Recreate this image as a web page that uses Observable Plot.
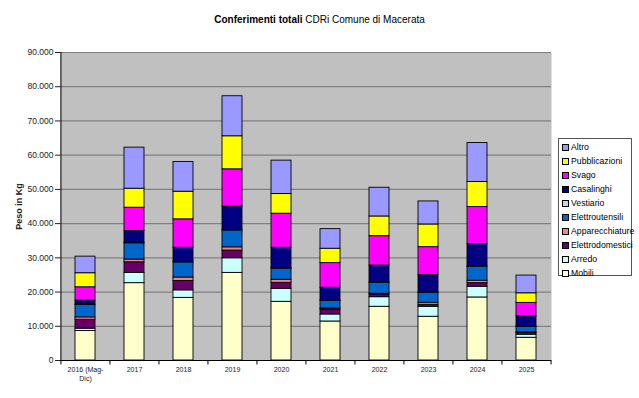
<!DOCTYPE html>
<html><head><meta charset="utf-8">
<script src="https://cdn.jsdelivr.net/npm/d3@7"></script>
<script src="https://cdn.jsdelivr.net/npm/@observablehq/plot@0.6"></script>
<style>
body{margin:0;background:#fff;font-family:"Liberation Sans",Arial,sans-serif;}
#wrap{position:relative;width:639px;height:398px;overflow:hidden;}
#title{height:40px;line-height:40px;text-align:center;font-size:10px;color:#000;white-space:nowrap;}
#legend{position:absolute;left:558px;top:138px;width:74px;height:138px;border:1px solid #555;background:#fff;box-sizing:border-box;padding-top:1px;}
.li{height:14px;display:flex;align-items:center;font-size:8.7px;color:#000;white-space:nowrap;padding-left:3px;}
.sw{display:inline-block;width:5px;height:5px;border:1px solid #000;margin-right:2px;flex:none;}
g[aria-label="y-axis label"] text{font-weight:bold;font-size:9px;}
</style></head><body>
<div id="wrap">
<div id="title"><b>Conferimenti totali</b> CDRi Comune di Macerata</div>
<div id="chart"></div>
<div id="legend"></div>
</div>
<script>
const years = ["2016 (Mag-\nDic)","2017","2018","2019","2020","2021","2022","2023","2024","2025"];
const seriesNames = ["Mobili","Arredo","Elettrodomestici","Apparecchiature","Elettroutensili","Vestiario","Casalinghi","Svago","Pubblicazioni","Altro"];
const seriesColors = ["#ffffcc","#ccffff","#660066","#ff8080","#0066cc","#ccccff","#000080","#ff00ff","#ffff00","#9999ff"];
const yTicks = [0,10000,20000,30000,40000,50000,60000,70000,80000,90000];

const mobili           = [8600,22600,18300,25600,17150,11400,15700,12780,18420,6640];
const arredo           = [700,3000,2200,4270,3800,2050,2800,2920,3130,900];
const elettrodomestici = [2600,3100,2750,2250,1750,1460,800,580,1050,500];
const apparecchiature  = [700,800,1000,950,900,300,200,580,700,200];
const elettroutensili  = [3600,4750,4400,4900,3200,2250,3200,2920,4100,1580];
const vestiario        = [150,200,200,200,150,100,100,100,150,100];
const casalinghi       = [1150,3400,4100,6800,6000,3700,4960,5050,6460,3000];
const svago            = [3900,6800,8300,10900,9950,7200,8570,8190,10820,3920];
const pubblicazioni    = [4100,5550,8070,9650,5730,4200,5760,6630,7310,2800];
const altro            = [4850,12000,8700,11700,9770,5730,8390,6730,11400,5180];

const seriesValues = [mobili,arredo,elettrodomestici,apparecchiature,elettroutensili,vestiario,casalinghi,svago,pubblicazioni,altro];

const table = [];
seriesNames.forEach((s,i)=>{
  years.forEach((y,j)=>table.push({year:y, serie:s, value:seriesValues[i][j]}));
});

const W = 639, H = 358, mL = 60, mR = 88, mT = 12, mB = 38;
const step = (W - mL - mR) / years.length;
const fmt = d3.formatLocale({decimal:",", thousands:".", grouping:[3]}).format(",");

const chart = Plot.plot({
  width: W, height: H,
  marginLeft: mL, marginRight: mR, marginTop: mT, marginBottom: mB,
  style: {fontFamily: "'Liberation Sans', Arial, sans-serif", fontSize: "8.5px", color: "#222", background: "transparent"},
  x: {domain: years, paddingInner: 0.59, paddingOuter: 0.295, label: null},
  y: {domain: [0, 90000], label: null},
  color: {domain: seriesNames, range: seriesColors},
  marks: [
    Plot.frame({fill: "#c0c0c0", stroke: null}),
    Plot.ruleY(yTicks.slice(1), {stroke: "#808080", strokeWidth: 1.2}),
    Plot.barY(table, {x: "year", y: "value", fill: "serie", stroke: "#000", strokeWidth: 0.9, order: seriesNames}),
    Plot.ruleY([0], {stroke: "#000"}),
    Plot.ruleX([years[0]], {x: d => d, y1: 0, y2: 90000, dx: -step/2, stroke: "#000"}),
    Plot.ruleX(years, {x: d => d, y1: 0, y2: -1300, dx: -step/2, stroke: "#000"}),
    Plot.ruleX([years[years.length-1]], {x: d => d, y1: 0, y2: -1300, dx: step/2, stroke: "#000"}),
    Plot.axisY({ticks: yTicks, tickFormat: fmt, tickSize: 5, tickPadding: 2, label: "Peso in Kg", labelAnchor: "center", labelOffset: 45, labelArrow: "none", fontSize: 8.5}),
    Plot.axisX({tickSize: 0, tickPadding: 5, fontSize: 7, label: null, lineHeight: 1.3})
  ]
});
document.getElementById("chart").appendChild(chart);

const legend = document.getElementById("legend");
for (let i = seriesNames.length - 1; i >= 0; i--) {
  const d = document.createElement("div");
  d.className = "li";
  const sw = document.createElement("span");
  sw.className = "sw";
  sw.style.background = seriesColors[i];
  d.appendChild(sw);
  d.appendChild(document.createTextNode(seriesNames[i]));
  legend.appendChild(d);
}
</script>
</body></html>
